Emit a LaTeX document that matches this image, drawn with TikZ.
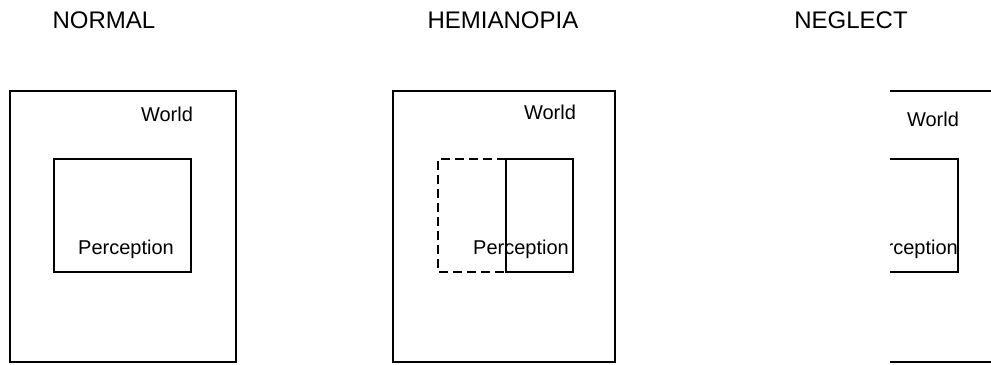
\documentclass[tikz,border=0pt]{standalone}
\usepackage{fontspec}
\setmainfont{Liberation Sans}
\begin{document}
\begin{tikzpicture}[x=0.75pt, y=-0.75pt, line width=1.1pt,
		title/.style={font=\fontsize{18}{21}\selectfont, anchor=base, inner sep=0pt},
		label/.style={font=\fontsize{15}{18}\selectfont, anchor=base, inner sep=0pt},
		hidden/.style={dash pattern=on 7pt off 3.5pt}]
			\useasboundingbox (0,0) rectangle (991,364);
			% titles
			\node[title] (tnormal) at (104,28) {NORMAL};
			\node[title] (themi) at (503,28) {HEMIANOPIA};
			\node[title] (tneglect) at (851,28) {NEGLECT};
			% normal
			\draw (10,91) rectangle (236,362);
			\draw (54,159) rectangle (191,272);
			\node[label] (wnormal) at (167,121) {World};
			\node[label] (pnormal) at (126,254) {Perception};
			% hemianopia
			\draw (393,91) rectangle (615,362);
			\draw[hidden] (506,159) -- (438,159) -- (438,272) -- (506,272);
			\draw (506,159) rectangle (573,272);
			\node[label] (whemi) at (550,119) {World};
			\node[label] (phemi) at (521,254) {Perception};
			% neglect
			\begin{scope}
				\clip (890,0) rectangle (991,364);
				\draw (780,91) rectangle (1010,362);
				\draw (821,159) rectangle (958,272);
				\node[label] (wneglect) at (933,126) {World};
				\node[label] (pneglect) at (910,254) {Perception};
			\end{scope}
		\end{tikzpicture}
\end{document}
